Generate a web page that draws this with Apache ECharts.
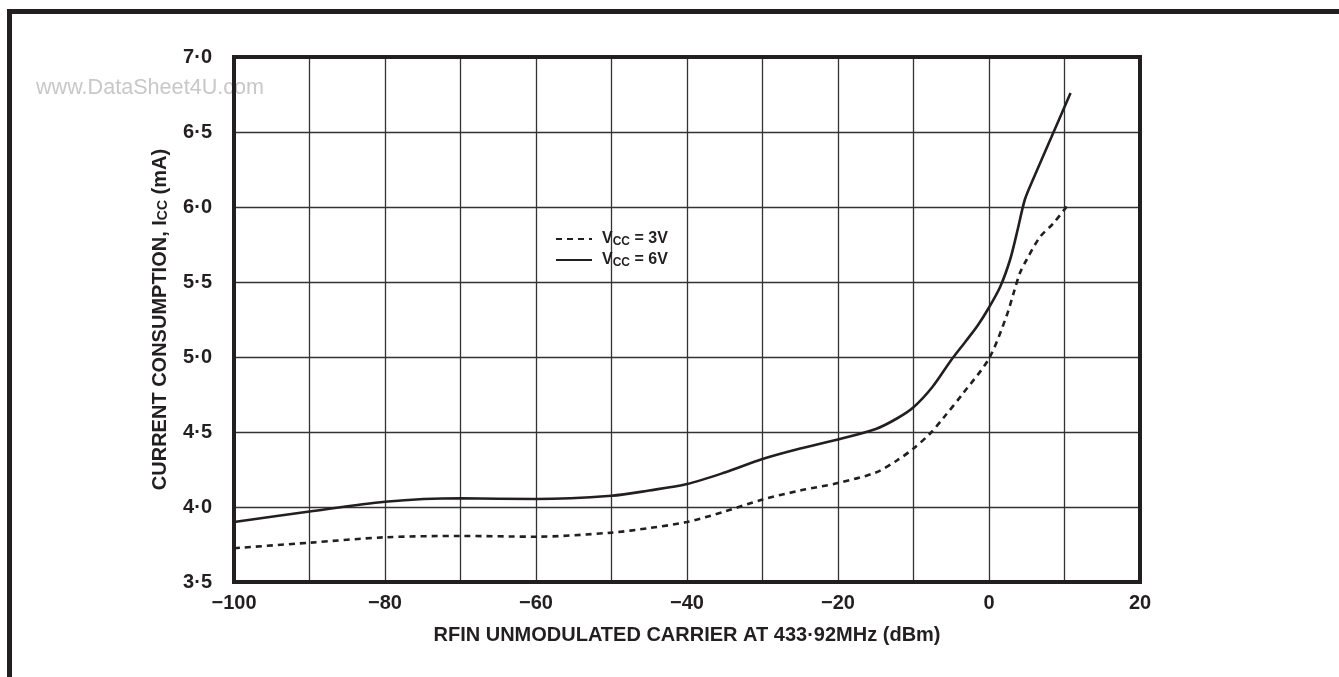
<!DOCTYPE html>
<html>
<head>
<meta charset="utf-8">
<script src="https://cdn.jsdelivr.net/npm/echarts@6/dist/echarts.min.js"></script>
<style>
html,body{margin:0;padding:0;background:#fff;}
#c{width:1339px;height:677px;}
</style>
</head>
<body>
<div id="c"></div>
<script>
// x values (dBm) and current consumption (mA) for each curve
var x3V = [-100, -90, -80, -70, -60, -50, -45, -40, -35, -30, -25, -20, -15, -12.2, -10, -7.8, -6.1, -3.4, 0, 2.3, 3.4, 4.1, 5, 6.75, 8.5, 10.4];
var y3V = [3.725, 3.762, 3.798, 3.807, 3.802, 3.829, 3.86, 3.90, 3.97, 4.05, 4.11, 4.16, 4.23, 4.31, 4.39, 4.49, 4.59, 4.76, 4.99, 5.27, 5.45, 5.56, 5.65, 5.80, 5.89, 6.01];
var x6V = [-100, -90, -80, -70, -60, -50, -45, -40, -35, -30, -25, -20, -15, -12.2, -10, -7.5, -5, -3, -1.5, 0, 1.5, 2.8, 3.8, 4.75, 5.8, 8.3, 10.8];
var y6V = [3.90, 3.97, 4.035, 4.058, 4.053, 4.075, 4.11, 4.153, 4.23, 4.32, 4.39, 4.45, 4.52, 4.59, 4.665, 4.80, 4.98, 5.11, 5.21, 5.33, 5.47, 5.65, 5.85, 6.05, 6.18, 6.47, 6.76];
var seriesNames = ['V{s|CC} = 3V', 'V{s|CC} = 6V'];
var xAxisRange = [-100, 20];
var yAxisRange = [3.5, 7.0];
var xTitle = 'RFIN UNMODULATED CARRIER AT 433\u00b792MHz (dBm)';
var yTitle = 'CURRENT CONSUMPTION, I{s|CC} (mA)';
var watermark = 'www.DataSheet4U.com';

function pairs(xs, ys) { return xs.map(function (v, i) { return [v, ys[i]]; }); }

var ink = '#231f20';
var chart = echarts.init(document.getElementById('c'));
chart.setOption({
  animation: false,
  backgroundColor: '#fff',
  textStyle: { fontFamily: 'Liberation Sans, Arial, sans-serif' },
  graphic: [
    { type: 'text', z: -10, left: 36, top: 77, style: { text: watermark, fill: '#c8c8c8', font: '21.6px "Liberation Sans", Arial, sans-serif' } },
    { type: 'rect', shape: { x: 7, y: 9, width: 1332, height: 5 }, style: { fill: ink } },
    { type: 'rect', shape: { x: 7, y: 9, width: 5, height: 668 }, style: { fill: ink } }
  ],
  grid: { left: 234, right: 199, top: 57, bottom: 95, show: true, borderColor: ink, borderWidth: 4, z: 5, backgroundColor: 'transparent' },
  legend: {
    left: 550, top: 226, orient: 'vertical', itemWidth: 36, itemHeight: 14, itemGap: 4,
    data: seriesNames,
    itemStyle: { color: 'rgba(0,0,0,0)', borderWidth: 0 },
    textStyle: {
      fontSize: 16, fontWeight: 'bold', color: ink, padding: [0, 0, 0, 5],
      rich: { s: { fontSize: 12, fontWeight: 'bold', color: ink, padding: [6, 0, 0, 0] } }
    }
  },
  xAxis: {
    type: 'value', min: xAxisRange[0], max: xAxisRange[1], interval: 10,
    name: xTitle, nameLocation: 'middle', nameGap: 43,
    nameTextStyle: { fontSize: 20, fontWeight: 'bold', color: ink },
    axisLine: { show: false }, axisTick: { show: false },
    axisLabel: {
      margin: 11, fontSize: 20, fontWeight: 'bold', color: ink,
      formatter: function (v) { return (v % 20 === 0) ? (v < 0 ? '\u2212' + Math.abs(v) : String(v)) : ''; }
    },
    splitLine: { show: true, lineStyle: { color: '#333', width: 1.3 } }
  },
  yAxis: {
    type: 'value', min: yAxisRange[0], max: yAxisRange[1], interval: 0.5,
    name: yTitle, nameLocation: 'middle', nameGap: 64, nameRotate: 90,
    nameTextStyle: {
      fontSize: 20, fontWeight: 'bold', color: ink,
      rich: { s: { fontSize: 14, fontWeight: 'bold', color: ink, padding: [6, 0, 0, 0] } }
    },
    axisLine: { show: false }, axisTick: { show: false },
    axisLabel: {
      margin: 22, fontSize: 20, fontWeight: 'bold', color: ink,
      formatter: function (v) { return v.toFixed(1).replace('.', '\u00b7'); }
    },
    splitLine: { show: true, lineStyle: { color: '#333', width: 1.3 } }
  },
  series: [
    { name: seriesNames[0], type: 'line', smooth: 0.3, symbol: 'none', data: pairs(x3V, y3V),
      lineStyle: { color: ink, width: 2.6, type: [6, 5] }, itemStyle: { color: ink }, z: 3 },
    { name: seriesNames[1], type: 'line', smooth: 0.3, symbol: 'none', data: pairs(x6V, y6V),
      lineStyle: { color: ink, width: 2.6, type: 'solid' }, itemStyle: { color: ink }, z: 3 }
  ]
});
</script>
</body>
</html>
